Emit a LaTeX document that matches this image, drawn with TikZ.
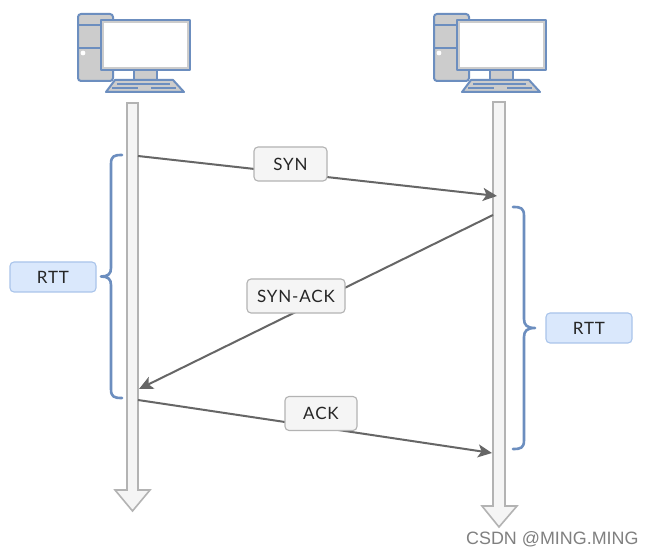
\documentclass[tikz,border=0pt]{standalone}
\usepackage{fontspec}
\setmainfont[LetterSpace=5]{Lato}
\newfontfamily\markfont{Liberation Sans}
\usetikzlibrary{arrows.meta}
\definecolor{pcblue}{HTML}{6C8EBF}
\definecolor{pcgrey}{HTML}{CCCCCC}
\definecolor{railfill}{HTML}{F5F5F5}
\definecolor{railline}{HTML}{B3B3B3}
\definecolor{msgline}{HTML}{666666}
\definecolor{labelfill}{HTML}{F5F5F5}
\definecolor{rttfill}{HTML}{DAE8FC}
\definecolor{rttline}{HTML}{A9C4EB}
\tikzset{
  x=1pt,y=-1pt,
  pcpart/.style={draw=pcblue,fill=pcgrey,line width=2pt,line join=round},
  pcline/.style={draw=pcblue,line width=1.6pt},
  rail/.style={draw=railline,fill=railfill,line width=1.6pt,line join=miter},
  msg/.style={draw=msgline,line width=2pt,-{Stealth[length=14pt,width=13pt,inset=3.5pt]}},
  msgbox/.style={draw=railline,fill=labelfill,rounded corners=4pt,line width=1.1pt,
    text=black!85,font=\fontsize{17}{20}\selectfont,inner sep=0pt,anchor=center},
  rttbox/.style={draw=rttline,fill=rttfill,rounded corners=4pt,line width=1.1pt,
    text=black!85,font=\fontsize{17}{20}\selectfont,inner sep=0pt,anchor=center},
  brace/.style={draw=pcblue,line width=2.6pt,line cap=round,line join=round},
  computer/.pic={
    % tower
    \path[pcpart] (0,3) arc[start angle=180,end angle=270,radius=3] -- (32,0)
      arc[start angle=270,end angle=360,radius=3] -- (35,64)
      arc[start angle=0,end angle=90,radius=3] -- (3,67)
      arc[start angle=90,end angle=180,radius=3] -- cycle;
    \path[pcline] (0,11) -- (23,11) (0,34) -- (23,34);
    \fill[white] (5,39) circle[radius=2.4];
    % stand and keyboard
    \path[pcpart] (56,56) rectangle (79,66);
    \path[pcpart] (28,78) -- (37,66) -- (95,66) -- (106,78) -- cycle;
    \path[pcline,line width=1.2pt] (39,70) -- (92,70) (34,74) -- (60,74) (73,74) -- (98,74);
    % monitor
    \path[pcpart] (23,6) rectangle (112,56);
    \fill[white] (26,9) rectangle (109,53);
  }
}
\begin{document}
\begin{tikzpicture}
\useasboundingbox (0,0) rectangle (651,553);
\fill[white] (0,0) rectangle (651,553);

% hosts
\pic at (78,14) {computer};
\pic at (434,14) {computer};

% time axes
\path[rail] (127,103) -- (138,103) -- (138,490) -- (150,490) -- (132.5,511)
  -- (115,490) -- (127,490) -- cycle;
\path[rail] (493,102) -- (505,102) -- (505,506) -- (517,506) -- (499,527)
  -- (482,506) -- (493,506) -- cycle;

% message end points
\coordinate (synA) at (138,156);
\coordinate (synB) at (497,196);
\coordinate (sackA) at (493,215);
\coordinate (sackB) at (139,389);
\coordinate (ackA) at (138,400);
\coordinate (ackB) at (492,453);

\draw[msg] (synA) -- (synB);
\draw[msg] (sackA) -- (sackB);
\draw[msg] (ackA) -- (ackB);

% message labels
\node[msgbox,minimum width=73pt,minimum height=34pt] (syn) at (290.5,164) {SYN};
\node[msgbox,minimum width=98pt,minimum height=34pt] (sack) at (296,296) {SYN-ACK};
\node[msgbox,minimum width=72pt,minimum height=34pt] (ack) at (321,413.5) {ACK};

% round-trip braces
\draw[brace] (122,155) .. controls (114,155) and (111,156) .. (111,164)
  -- (111,268) .. controls (111,274) and (108,276.5) .. (101,276.5)
  .. controls (108,276.5) and (111,279) .. (111,285)
  -- (111,389) .. controls (111,397) and (114,398) .. (122,398);
\draw[brace] (513,207) .. controls (521,207) and (524,208) .. (524,216)
  -- (524,319) .. controls (524,325) and (527,328) .. (535,328)
  .. controls (527,328) and (524,331) .. (524,337)
  -- (524,440) .. controls (524,448) and (521,449) .. (513,449);

\node[rttbox,minimum width=86pt,minimum height=30pt] (rttL) at (53,277) {RTT};
\node[rttbox,minimum width=86pt,minimum height=30pt] (rttR) at (589,328) {RTT};

% watermark
\node[anchor=base west,inner sep=0pt,text=black!50,font=\markfont\fontsize{17.9}{20}\selectfont] (mark) at (466,544) {CSDN @MING.MING};
\end{tikzpicture}
\end{document}
